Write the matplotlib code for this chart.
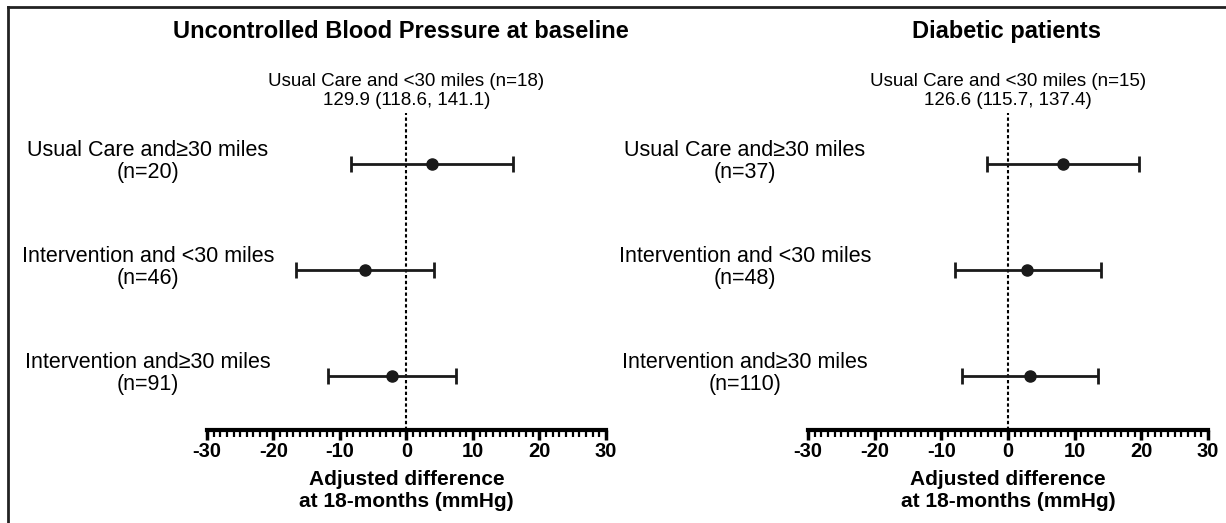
import matplotlib.pyplot as plt
from matplotlib.ticker import MultipleLocator
from matplotlib.lines import Line2D
from matplotlib.transforms import blended_transform_factory

plt.rcParams['font.family'] = ['Liberation Sans', 'DejaVu Sans']
plt.rcParams['axes.unicode_minus'] = False

# rows top to bottom
groups_left = ["Usual Care and\u226530 miles\n(n=20)",
               "Intervention and <30 miles\n(n=46)",
               "Intervention and\u226530 miles\n(n=91)"]
est_left = [3.9, -6.3, -2.2]
lo_left = [-8.3, -16.6, -11.8]
hi_left = [16.1, 4.2, 7.5]

groups_right = ["Usual Care and\u226530 miles\n(n=37)",
                "Intervention and <30 miles\n(n=48)",
                "Intervention and\u226530 miles\n(n=110)"]
est_right = [8.2, 2.9, 3.3]
lo_right = [-3.2, -8.0, -6.9]
hi_right = [19.6, 13.9, 13.5]

titles = ["Uncontrolled Blood Pressure at baseline", "Diabetic patients"]
refs = ["Usual Care and <30 miles (n=18)\n129.9 (118.6, 141.1)",
        "Usual Care and <30 miles (n=15)\n126.6 (115.7, 137.4)"]
xlabel = "Adjusted difference\nat 18-months (mmHg)"


def forest(fig, ax, labels, est, lo, hi, title, ref, label_x, title_x):
    ypos = [3, 2, 1]
    xerr = [[e - l for e, l in zip(est, lo)], [h - e for e, h in zip(est, hi)]]
    ax.errorbar(est, ypos, xerr=xerr, fmt='o', color='#1a1a1a', ms=8,
                elinewidth=2, capsize=6, capthick=2, zorder=3)
    ax.axvline(0, color='black', ls=(0, (1.6, 1.2)), lw=1.5, zorder=1)
    ax.set_xlim(-30, 30)
    ax.set_ylim(0.49, 3.48)
    ax.set_yticks([])
    for s in ['top', 'right', 'left']:
        ax.spines[s].set_visible(False)
    ax.spines['bottom'].set_linewidth(3)
    ax.xaxis.set_major_locator(MultipleLocator(10))
    ax.xaxis.set_minor_locator(MultipleLocator(1))
    ax.tick_params(axis='x', which='major', length=7, width=2.5, labelsize=14.5, pad=2)
    ax.tick_params(axis='x', which='minor', length=5, width=1.6)
    for t in ax.get_xticklabels():
        t.set_fontweight('bold')
    ax.set_xlabel(xlabel, fontsize=15, fontweight='bold', labelpad=6, linespacing=1.2)
    trans = blended_transform_factory(fig.transFigure, ax.transData)
    for y, lab in zip(ypos, labels):
        ax.text(label_x, y + 0.02, lab, transform=trans,
                ha='center', va='center', fontsize=15.5, linespacing=1.08)
    ax.text(0, 3.52, ref, ha='center', va='bottom', fontsize=13.5, linespacing=1.12)
    fig.text(title_x, 0.939, title, ha='center', va='center',
             fontsize=17, fontweight='bold')


fig = plt.figure(figsize=(12.26, 5.23), dpi=100)
ax1 = fig.add_axes([0.1688, 0.178, 0.3254, 0.606])
ax2 = fig.add_axes([0.659, 0.178, 0.3263, 0.606])
forest(fig, ax1, groups_left, est_left, lo_left, hi_left, titles[0], refs[0], 0.1207, 0.327)
forest(fig, ax2, groups_right, est_right, lo_right, hi_right, titles[1], refs[1], 0.6077, 0.821)

# frame edges visible in the original
fig.add_artist(Line2D([0.0062, 0.0062], [0, 0.987], transform=fig.transFigure, color='#222222', lw=2))
fig.add_artist(Line2D([0.0062, 1], [0.987, 0.987], transform=fig.transFigure, color='#222222', lw=2))

fig.savefig('out.png', dpi=100)
